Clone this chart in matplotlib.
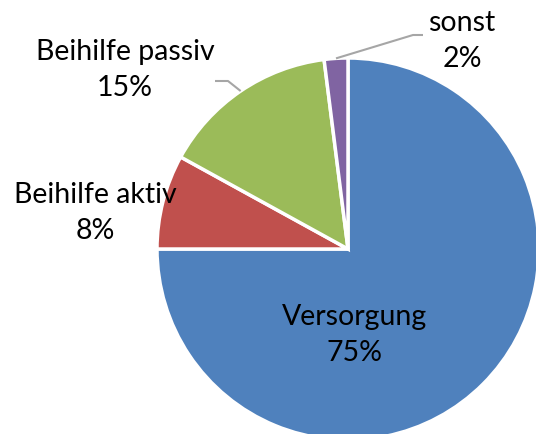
import numpy as np
import matplotlib
matplotlib.use("Agg")
import matplotlib.pyplot as plt

labels = ["Versorgung", "Beihilfe aktiv", "Beihilfe passiv", "sonst"]
values = [75, 8, 15, 2]
colors = ["#4F81BD", "#C0504D", "#9BBB59", "#8064A2"]

W, H = 536, 434
plt.rcParams['font.family'] = ['Lato', 'DejaVu Sans']

fig = plt.figure(figsize=(W / 100, H / 100), dpi=100)
ax = fig.add_axes([0, 0, 1, 1])

cx, cy, r = 348, H - 249, 191
wedges, _ = ax.pie(values, colors=colors, startangle=90, counterclock=False,
                   center=(cx, cy), radius=r, frame=True,
                   wedgeprops=dict(edgecolor="white", linewidth=2.5))
ax.set_xlim(0, W)
ax.set_ylim(0, H)
ax.set_aspect("equal")
ax.axis("off")

# label positions in pixel coords (x, y from top)
pos = {
    "Versorgung": (355, 335),
    "Beihilfe aktiv": (95, 213),
    "Beihilfe passiv": (125, 70),
    "sonst": (462, 41),
}
# leader elbows for the outside labels
leaders = {
    "Beihilfe passiv": [(228, 81), (215, 81)],
    "sonst": [(413, 35), (423, 35)],
}

for w, lab, v in zip(wedges, labels, values):
    x, y = pos[lab]
    ax.text(x, H - y, f"{lab}\n{v}%", ha="center", va="center",
            fontsize=20.5, linespacing=1.45, color="black")
    if lab in leaders:
        ang = np.deg2rad((w.theta1 + w.theta2) / 2)
        px = [cx + r * np.cos(ang)] + [p[0] for p in leaders[lab]]
        py = [cy + r * np.sin(ang)] + [H - p[1] for p in leaders[lab]]
        ax.plot(px, py, color="#A6A6A6", lw=1.5, solid_capstyle="butt")

fig.savefig("out.png", dpi=100)
